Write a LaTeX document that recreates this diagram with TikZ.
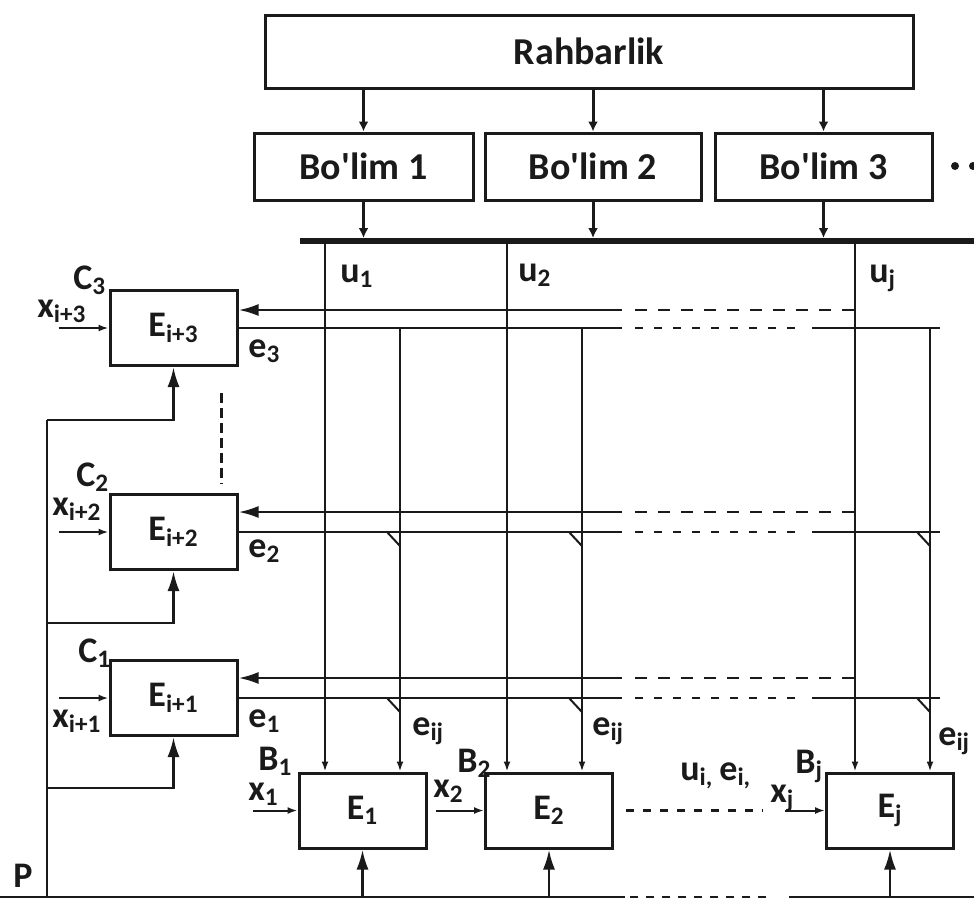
\documentclass[tikz,border=0pt]{standalone}
\usepackage{fontspec}
\setmainfont{Carlito}
\usetikzlibrary{arrows.meta, positioning, calc}
\definecolor{LineInk}{HTML}{1A1A1A}

\begin{document}
\begin{tikzpicture}[x=0.5pt, y=-0.5pt,
    box/.style={draw=LineInk, line width=1.5pt, inner sep=0pt, text=LineInk, font=\fontsize{19}{22}\selectfont\bfseries},
    ebox/.style={box, minimum width=63.5pt, minimum height=37.5pt, font=\fontsize{18}{21}\selectfont\bfseries},
    lab/.style={inner sep=0pt, anchor=base west, text=LineInk, font=\fontsize{18}{21}\selectfont\bfseries},
    wire/.style={draw=LineInk, line width=1pt},
    sig/.style={draw=LineInk, line width=1.3pt},
    bigtip/.style={-{Latex[length=10pt,width=6pt]}},
    smalltip/.style={-{Latex[length=5pt,width=3.5pt]}},
    toptip/.style={-{Latex[length=5pt,width=5pt]}},
    dashseg/.style={wire, line width=1.3pt, dash pattern=on 6pt off 5.5pt},
    dotseg/.style={wire, line width=1.3pt, dash pattern=on 4pt off 5.5pt}]
          \useasboundingbox (0,0) rectangle (974,900);

          \node[box, minimum width=324pt, minimum height=36.5pt] (rahbar) at (589,51.5) {Rahbarlik};
          \node[box, minimum width=109.5pt, minimum height=33.5pt] (bolim1) at (363.5,166.5) {Bo\textquotesingle lim 1};
          \node[box, minimum width=108pt, minimum height=33.5pt] (bolim2) at (593,166.5) {Bo\textquotesingle lim 2};
          \node[box, minimum width=108.5pt, minimum height=33.5pt] (bolim3) at (823.5,166.5) {Bo\textquotesingle lim 3};
          \fill[LineInk] (955,166) circle (2pt);
          \fill[LineInk] (973,166) circle (2pt);

          \coordinate (busL) at (300,241);
          \coordinate (busR) at (974,241);
          \draw[LineInk, line width=3pt] (busL) -- (busR);

          \draw[sig, line width=1.5pt, toptip] (rahbar.south -| bolim1) -- (bolim1.north);
          \draw[sig, line width=1.5pt, toptip] (rahbar.south -| bolim2) -- (bolim2.north);
          \draw[sig, line width=1.5pt, toptip] (rahbar.south -| bolim3) -- (bolim3.north);
          \draw[sig, line width=1.5pt, toptip, shorten >=1.5pt] (bolim1.south) -- (bolim1.south |- busL);
          \draw[sig, line width=1.5pt, toptip, shorten >=1.5pt] (bolim2.south) -- (bolim2.south |- busL);
          \draw[sig, line width=1.5pt, toptip, shorten >=1.5pt] (bolim3.south) -- (bolim3.south |- busL);

          \node[ebox] (ei3) at (173.5,328) {E\textsubscript{i+3}};
          \node[ebox] (ei2) at (173.5,532) {E\textsubscript{i+2}};
          \node[ebox] (ei1) at (173.5,698) {E\textsubscript{i+1}};
          \node[ebox] (eb1) at (362.5,810.5) {E\textsubscript{1}};
          \node[ebox] (eb2) at (549,810.5) {E\textsubscript{2}};
          \node[ebox] (ebj) at (890,810.5) {E\textsubscript{j}};

          \coordinate (u1) at (325,241);
          \coordinate (u2) at (507,241);
          \coordinate (uj) at (855,241);
          \coordinate (e1) at (400,328);
          \coordinate (e2) at (582,328);
          \coordinate (ej) at (930,328);
          \coordinate (r3a) at (0,310);
          \coordinate (r2a) at (0,512);
          \coordinate (r1a) at (0,678);
          \coordinate (gapL) at (622,0);
          \coordinate (dashL) at (635,0);
          \coordinate (dashR) at (846,0);
          \coordinate (dotR) at (800,0);
          \coordinate (solR) at (812,0);
          \coordinate (endR) at (940,0);

          \draw[sig, bigtip] (gapL |- r3a) -- (ei3.east |- r3a);
          \draw[dashseg] (dashL |- r3a) -- (dashR |- r3a);
          \draw[sig] (dashR |- r3a) -- (uj |- r3a);
          \draw[sig] (ei3.east) -- (gapL |- ei3.east);
          \draw[dotseg] (dashL |- ei3.east) -- (dotR |- ei3.east);
          \draw[sig] (solR |- ei3.east) -- (endR |- ei3.east);

          \draw[sig, bigtip] (gapL |- r2a) -- (ei2.east |- r2a);
          \draw[dashseg] (dashL |- r2a) -- (dashR |- r2a);
          \draw[sig] (dashR |- r2a) -- (uj |- r2a);
          \draw[sig] (ei2.east) -- (gapL |- ei2.east);
          \draw[dotseg] (dashL |- ei2.east) -- (dotR |- ei2.east);
          \draw[sig] (solR |- ei2.east) -- (endR |- ei2.east);

          \draw[sig, bigtip] (gapL |- r1a) -- (ei1.east |- r1a);
          \draw[dashseg] (dashL |- r1a) -- (dashR |- r1a);
          \draw[sig] (dashR |- r1a) -- (uj |- r1a);
          \draw[sig] (ei1.east) -- (gapL |- ei1.east);
          \draw[dotseg] (dashL |- ei1.east) -- (dotR |- ei1.east);
          \draw[sig] (solR |- ei1.east) -- (endR |- ei1.east);

          \draw[wire, smalltip] (u1) -- (u1 |- eb1.north);
          \draw[wire, smalltip] (u2) -- (u2 |- eb2.north);
          \draw[wire, smalltip] (uj) -- (uj |- ebj.north);
          \draw[wire, smalltip] (e1) -- (e1 |- eb1.north);
          \draw[wire, smalltip] (e2) -- (e2 |- eb2.north);
          \draw[wire, smalltip] (ej) -- (ej |- ebj.north);

          \draw[wire] (e1 |- ei2.east) ++(-13,0) -- ++(13,14);
          \draw[wire] (e2 |- ei2.east) ++(-13,0) -- ++(13,14);
          \draw[wire] (ej |- ei2.east) ++(-13,0) -- ++(13,14);
          \draw[wire] (e1 |- ei1.east) ++(-13,0) -- ++(13,14);
          \draw[wire] (e2 |- ei1.east) ++(-13,0) -- ++(13,14);
          \draw[wire] (ej |- ei1.east) ++(-13,0) -- ++(13,14);

          \draw[LineInk, line width=1.5pt, dash pattern=on 5pt off 2.5pt] ([xshift=-8.5pt, yshift=-13pt]ei3.south east) -- ([xshift=-8.5pt, yshift=4.5pt]ei2.north east);

          \coordinate (pTop) at (47,420);
          \coordinate (pMid2) at (47,623);
          \coordinate (pMid1) at (47,788);
          \coordinate (botL) at (0,897);
          \coordinate (botGapL) at (625,897);
          \coordinate (botDotL) at (630,897);
          \coordinate (botDotR) at (772,897);
          \coordinate (botGapR) at (789,897);
          \coordinate (botR) at (974,897);
          \draw[sig] (pTop) -- (pTop |- botL);
          \draw[sig] (botL) -- (botGapL);
          \draw[wire, line width=1.3pt, dash pattern=on 4pt off 4pt] (botDotL) -- (botDotR);
          \draw[sig] (botGapR) -- (botR);

          \draw[sig, bigtip] (pTop) -| (ei3.south);
          \draw[sig, bigtip] (pMid2) -| (ei2.south);
          \draw[sig, bigtip] (pMid1) -| (ei1.south);
          \draw[sig, bigtip] (eb1.south |- botL) -- (eb1.south);
          \draw[sig, bigtip] (eb2.south |- botL) -- (eb2.south);
          \draw[sig, bigtip] (ebj.south |- botL) -- (ebj.south);

          \draw[wire, smalltip] ([xshift=-25pt]ei3.west) -- (ei3.west);
          \draw[wire, smalltip] ([xshift=-25pt]ei2.west) -- (ei2.west);
          \draw[wire, smalltip] ([xshift=-25pt]ei1.west) -- (ei1.west);
          \draw[wire, smalltip] ([xshift=-22.5pt]eb1.west) -- (eb1.west);
          \draw[wire, smalltip] ([xshift=-24pt]eb2.west) -- (eb2.west);
          \draw[wire, smalltip] ([xshift=-20pt]ebj.west) -- (ebj.west);
          \draw[wire, line width=1.3pt, dash pattern=on 4pt off 4.5pt] ([xshift=6pt]eb2.east) -- ([xshift=-31pt]ebj.west);

          \node[lab] (lu1) at (340,282) {u\textsubscript{1}};
          \node[lab] (lu2) at (518,281) {u\textsubscript{2}};
          \node[lab] (luj) at (869,282) {u\textsubscript{j}};
          \node[lab] (lc3) at (73,289) {C\textsubscript{3}};
          \node[lab] (lx3) at (37,317) {x\textsubscript{i+3}};
          \node[lab] (le3) at (248,357) {e\textsubscript{3}};
          \node[lab] (lc2) at (76,486) {C\textsubscript{2}};
          \node[lab] (lx2) at (52,515) {x\textsubscript{i+2}};
          \node[lab] (le2) at (248,557) {e\textsubscript{2}};
          \node[lab] (lc1) at (78,662) {C\textsubscript{1}};
          \node[lab] (lx1) at (52,727) {x\textsubscript{i+1}};
          \node[lab] (le1) at (248,727) {e\textsubscript{1}};
          \node[lab] (lb1) at (258,770) {B\textsubscript{1}};
          \node[lab] (lxb1) at (248,800) {x\textsubscript{1}};
          \node[lab] (lb2) at (457,772) {B\textsubscript{2}};
          \node[lab] (lxb2) at (433,797) {x\textsubscript{2}};
          \node[lab] (lbj) at (795,773) {B\textsubscript{j}};
          \node[lab] (lxbj) at (770,802) {x\textsubscript{j}};
          \node[lab] (leij1) at (412,735) {e\textsubscript{ij}};
          \node[lab] (leij2) at (592,735) {e\textsubscript{ij}};
          \node[lab] (leijj) at (938,745) {e\textsubscript{ij}};
          \node[lab] (luei) at (680,780) {u\textsubscript{i,}\,e\textsubscript{i,}};
          \node[lab] (lp) at (13,887) {P};
      \end{tikzpicture}
\end{document}
